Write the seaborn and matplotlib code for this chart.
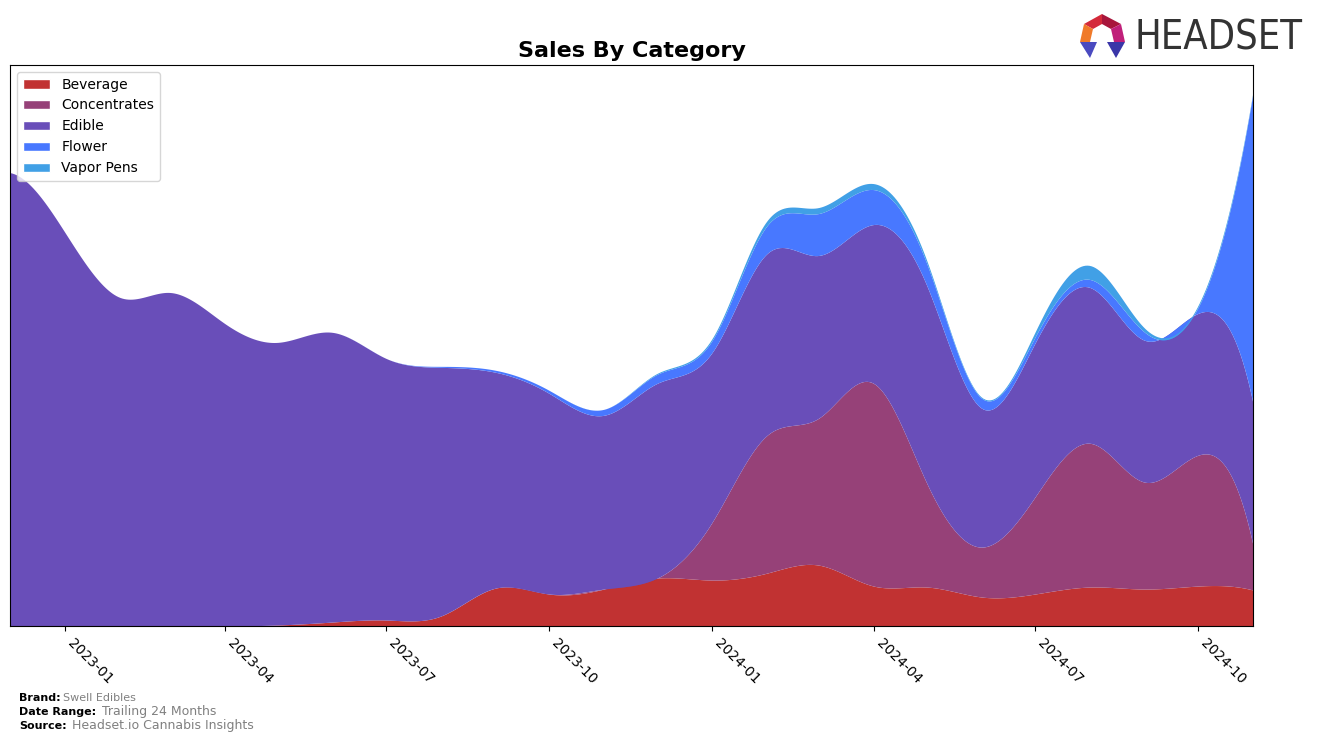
import numpy as np
import pandas as pd
import matplotlib
matplotlib.use("Agg")
import matplotlib.pyplot as plt
import matplotlib.dates as mdates
from matplotlib.patches import Polygon, Patch
from matplotlib.font_manager import FontProperties
import seaborn as sns

# ---------------- data (monthly, arbitrary units) ----------------
months = pd.date_range("2022-12-01", "2024-11-01", freq="MS")
categories = ["Beverage", "Concentrates", "Edible", "Flower", "Vapor Pens"]
beverage = [0, 0, 0, 0, 0, 1, 4, 6, 10, 38, 32, 37, 48, 46, 53, 61, 40, 39, 29, 32, 39, 37, 40, 36]
concentrates = [0, 0, 0, 0, 0, 0, 0, 0, 0, 0, 0, 0, 0, 58, 138, 147, 203, 104, 50, 97, 144, 107, 131, 45]
edible = [454, 394, 329, 334, 303, 283, 290, 262, 249, 216, 201, 174, 195, 170, 182, 163, 159, 198, 139, 154, 156, 142, 142, 142]
flower = [0, 0, 0, 0, 0, 0, 0, 0, 1, 2, 3, 6, 9, 12, 28, 42, 35, 22, 10, 6, 8, 8, 6, 311]
vapor_pens = [0, 0, 0, 0, 0, 0, 0, 0, 0, 0, 0, 0, 1, 2, 5, 6, 6, 3, 1, 5, 14, 4, 2, 1]
colors = ["#c13232", "#964178", "#694eb9", "#4878ff", "#41a0e6"]


def spline(x, y, xs):
    """Not-a-knot cubic spline (drawing smoothing only)."""
    x = np.asarray(x, float)
    y = np.asarray(y, float)
    n = len(x)
    h = np.diff(x)
    A = np.zeros((n, n))
    b = np.zeros(n)
    A[0, 0], A[0, 1], A[0, 2] = h[1], -(h[0] + h[1]), h[0]
    A[-1, -3], A[-1, -2], A[-1, -1] = h[-1], -(h[-2] + h[-1]), h[-2]
    for i in range(1, n - 1):
        A[i, i - 1] = h[i - 1]
        A[i, i] = 2 * (h[i - 1] + h[i])
        A[i, i + 1] = h[i]
        b[i] = 6 * ((y[i + 1] - y[i]) / h[i] - (y[i] - y[i - 1]) / h[i - 1])
    M = np.linalg.solve(A, b)
    idx = np.clip(np.searchsorted(x, xs) - 1, 0, n - 2)
    x0, x1 = x[idx], x[idx + 1]
    hh = x1 - x0
    return (M[idx] * (x1 - xs) ** 3 / (6 * hh) + M[idx + 1] * (xs - x0) ** 3 / (6 * hh)
            + (y[idx] / hh - M[idx] * hh / 6) * (x1 - xs)
            + (y[idx + 1] / hh - M[idx + 1] * hh / 6) * (xs - x0))


# ---------------- style ----------------
sns.set_style("white", rc={
    "axes.edgecolor": "black", "axes.linewidth": 1.0,
    "xtick.bottom": True, "xtick.color": "black", "text.color": "black",
    "axes.labelcolor": "black", "xtick.major.size": 3.5, "xtick.major.width": 0.8,
})
plt.rcParams["font.family"] = ["DejaVu Sans"]
palette = sns.color_palette(colors)

fig = plt.figure(figsize=(13.17, 7.42), dpi=100)
ax = fig.add_axes([10 / 1317, 1 - 626 / 742, 1243 / 1317, 561 / 742])

xn = mdates.date2num(months)
xs = np.linspace(xn[0], xn[-1], 600)
series = [beverage, concentrates, edible, flower, vapor_pens]
smooth = [spline(xn, s, xs) for s in series]
ax.stackplot(mdates.num2date(xs), *smooth, colors=palette, labels=categories, linewidth=0)

total = np.sum(smooth, axis=0)
ax.set_xlim(months[0], months[-1])
ax.set_ylim(0, total.max() * 1.05)
ax.set_yticks([])
ax.xaxis.set_major_locator(mdates.MonthLocator(bymonth=[1, 4, 7, 10]))
ax.xaxis.set_major_formatter(mdates.DateFormatter("%Y-%m"))
for lab in ax.get_xticklabels():
    lab.set_rotation(-45)
    lab.set_ha("left")
    lab.set_fontsize(10)
for sp in ax.spines.values():
    sp.set_visible(True)
    sp.set_color("black")

handles = [Patch(facecolor=c, label=l) for c, l in zip(palette, categories)]
ax.legend(handles=handles, loc="upper left", fontsize=10, frameon=True)

ax.set_title("Sales By Category", fontsize=16, fontweight="bold", pad=6)

# ---------------- footer ----------------
def px(x, y):
    return x / 1317, 1 - y / 742

fig.text(*px(19, 698), "Brand:", fontsize=8, fontweight="bold", va="center")
fig.text(*px(63, 698), "Swell Edibles", fontsize=8, color="grey", va="center")
fig.text(*px(19, 712), "Date Range:", fontsize=8, fontweight="bold", va="center")
fig.text(*px(102, 712), "Trailing 24 Months", fontsize=9, color="grey", va="center")
fig.text(*px(19, 726), "Source:", fontsize=8, fontweight="bold", va="center")
fig.text(*px(72, 726), "Headset.io Cannabis Insights", fontsize=9, color="grey", va="center")

# ---------------- logo ----------------
logo_font = FontProperties(family="DejaVu Sans", stretch="condensed", size=30)
logo_txt = fig.text(*px(1135, 39), "HEADSET", fontproperties=logo_font, color="#333333",
                    va="center", ha="left")
fig.canvas.draw()
w = logo_txt.get_window_extent(fig.canvas.get_renderer()).width
logo_txt.set_fontsize(30 * 168 / w)

logo = [
    ([(1102, 14), (1084, 24), (1093, 29), (1102, 24)], "#d42a3a"),
    ([(1102, 14), (1121, 24), (1111, 29), (1102, 24)], "#a8163c"),
    ([(1084, 24), (1080, 42), (1090, 42), (1093, 29)], "#f07a2a"),
    ([(1121, 24), (1125, 42), (1114, 42), (1111, 29)], "#c0207a"),
    ([(1080, 42), (1097, 42), (1090, 58)], "#4a4ac0"),
    ([(1107, 42), (1125, 42), (1116, 58)], "#3a36a8"),
]
for pts, col in logo:
    fig.patches.append(Polygon([px(x, y) for x, y in pts], closed=True, facecolor=col,
                               edgecolor="none", transform=fig.transFigure, figure=fig))

fig.savefig("out.png", dpi=100)
